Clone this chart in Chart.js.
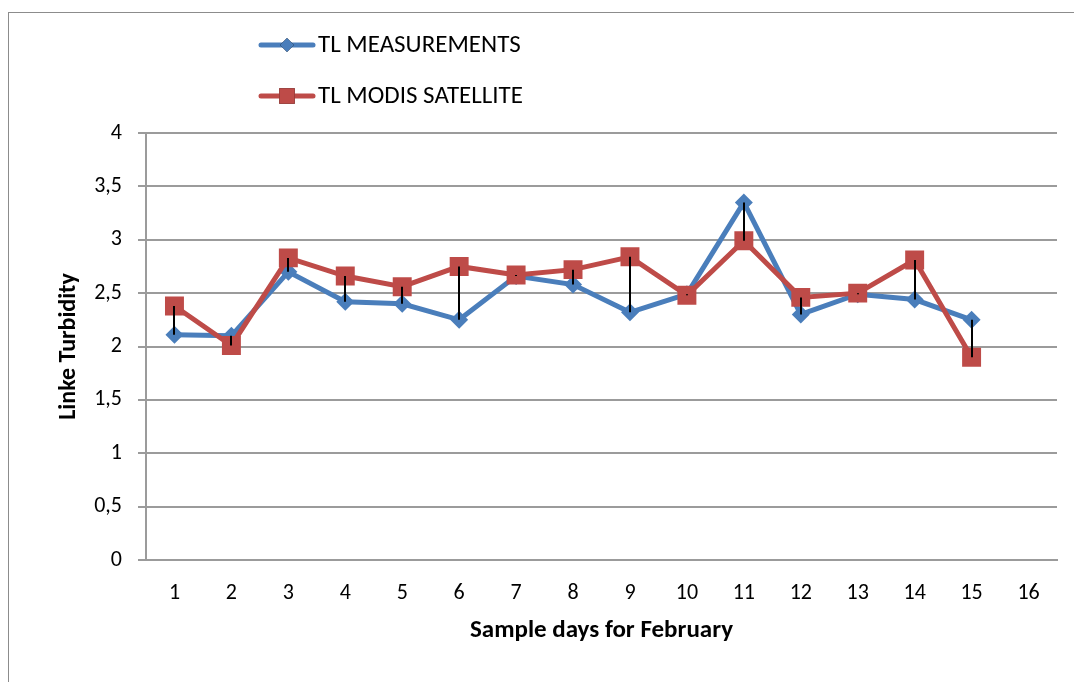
<!DOCTYPE html>
<html>
<head>
<meta charset="utf-8">
<script src="https://cdn.jsdelivr.net/npm/chart.js@4.4.1/dist/chart.umd.min.js"></script>
<style>
  html, body { margin: 0; padding: 0; background: #ffffff; }
  #wrap { width: 1074px; height: 682px; position: relative; }
</style>
</head>
<body>
<div id="wrap"><canvas id="chart" width="1074" height="682"></canvas></div>
<script>
// Sample days (category axis)
const days = ['1','2','3','4','5','6','7','8','9','10','11','12','13','14','15','16'];
// Linke turbidity from ground measurements
const tlMeasurements = [2.11, 2.10, 2.70, 2.42, 2.40, 2.25, 2.66, 2.58, 2.32, 2.49, 3.35, 2.30, 2.49, 2.44, 2.25, null];
// Linke turbidity from MODIS satellite
const tlModis = [2.38, 2.01, 2.83, 2.66, 2.56, 2.75, 2.67, 2.72, 2.84, 2.48, 2.99, 2.46, 2.50, 2.81, 1.90, null];
// Value axis ticks
const yTicks = [0, 0.5, 1, 1.5, 2, 2.5, 3, 3.5, 4];
const seriesNames = ['TL MEASUREMENTS', 'TL MODIS SATELLITE'];

const FONT = "Carlito, Calibri, Lato, sans-serif";
const BLUE = '#4a7ebb';
const RED = '#be4b48';
const GRID = '#9b9b9b';

// Outer frame around the whole chart
const framePlugin = {
  id: 'frame',
  beforeDraw(chart) {
    const ctx = chart.ctx;
    ctx.save();
    ctx.fillStyle = '#ffffff';
    ctx.fillRect(0, 0, chart.width, chart.height);
    ctx.strokeStyle = '#8c8c8c';
    ctx.lineWidth = 1;
    ctx.strokeRect(8.5, 12.5, chart.width + 20, chart.height + 20);
    ctx.restore();
  }
};

// Black high-low lines joining the two series on each day
const hiLoPlugin = {
  id: 'hiLo',
  afterDatasetsDraw(chart) {
    const ctx = chart.ctx;
    const x = chart.scales.x, y = chart.scales.y;
    ctx.save();
    ctx.strokeStyle = '#000000';
    ctx.lineWidth = 2;
    days.forEach((d, i) => {
      const a = tlMeasurements[i], b = tlModis[i];
      if (a == null || b == null) return;
      const px = Math.round(x.getPixelForValue(i));
      ctx.beginPath();
      ctx.moveTo(px, y.getPixelForValue(a));
      ctx.lineTo(px, y.getPixelForValue(b));
      ctx.stroke();
    });
    ctx.restore();
  }
};

// Stacked legend in the top area
const stackLegendPlugin = {
  id: 'stackLegend',
  afterDraw(chart) {
    const ctx = chart.ctx;
    const rows = [45, 96];
    const x0 = 261, x1 = 313;
    ctx.save();
    chart.data.datasets.forEach((ds, i) => {
      const yy = rows[i];
      ctx.strokeStyle = ds.borderColor;
      ctx.lineWidth = 5;
      ctx.lineCap = 'round';
      ctx.beginPath();
      ctx.moveTo(x0, yy);
      ctx.lineTo(x1, yy);
      ctx.stroke();
      Chart.helpers.drawPoint(ctx, {
        pointStyle: ds.pointStyle,
        radius: ds.legendRadius,
        borderWidth: 0,
        rotation: 0
      }, (x0 + x1) / 2, yy);
      ctx.fillStyle = ds.backgroundColor;
      ctx.fill();
      ctx.fillStyle = '#000000';
      ctx.font = '25px ' + FONT;
      ctx.textBaseline = 'middle';
      ctx.textAlign = 'left';
      ctx.fillText(ds.label, 318, yy + 1);
    });
    ctx.restore();
  }
};

new Chart(document.getElementById('chart'), {
  type: 'line',
  data: {
    labels: days,
    datasets: [
      {
        label: seriesNames[0],
        data: tlMeasurements,
        borderColor: BLUE,
        backgroundColor: BLUE,
        borderWidth: 5,
        pointStyle: 'rectRot',
        pointRadius: 9,
        pointBorderWidth: 0,
        pointBackgroundColor: BLUE,
        legendRadius: 7,
        tension: 0,
        order: 2
      },
      {
        label: seriesNames[1],
        data: tlModis,
        borderColor: RED,
        backgroundColor: RED,
        borderWidth: 5,
        pointStyle: 'rect',
        pointRadius: 13.4,
        pointBorderWidth: 0,
        pointBackgroundColor: RED,
        legendRadius: 11,
        tension: 0,
        order: 1
      }
    ]
  },
  options: {
    responsive: false,
    animation: false,
    devicePixelRatio: 1,
    layout: { padding: { left: 0, top: 133, right: 17, bottom: 0 } },
    plugins: {
      legend: { display: false },
      tooltip: { enabled: false }
    },
    scales: {
      x: {
        type: 'category',
        offset: true,
        grid: { display: false, drawTicks: false },
        border: { display: true, color: GRID, width: 2 },
        ticks: {
          color: '#000000',
          font: { family: FONT, size: 22 },
          padding: 20,
          maxRotation: 0,
          autoSkip: false
        },
        title: {
          display: true,
          text: 'Sample days for February',
          color: '#000000',
          font: { family: FONT, size: 25, weight: 'bold' },
          padding: { top: 0, bottom: 36 }
        },
        afterFit(scale) { scale.height = 122; }
      },
      y: {
        min: 0,
        max: 4,
        afterBuildTicks(scale) { scale.ticks = yTicks.map(v => ({ value: v })); },
        grid: { color: GRID, lineWidth: 2, tickLength: 8, drawTicks: true },
        border: { display: true, color: GRID, width: 2 },
        ticks: {
          color: '#000000',
          font: { family: FONT, size: 22 },
          padding: 16,
          callback: v => String(v).replace('.', ',')
        },
        title: {
          display: true,
          text: 'Linke Turbidity',
          color: '#000000',
          font: { family: FONT, size: 24, weight: 'bold' },
          padding: { top: 55, bottom: 0 }
        },
        afterFit(scale) { scale.width = 146; }
      }
    }
  },
  plugins: [framePlugin, hiLoPlugin, stackLegendPlugin]
});
</script>
</body>
</html>
